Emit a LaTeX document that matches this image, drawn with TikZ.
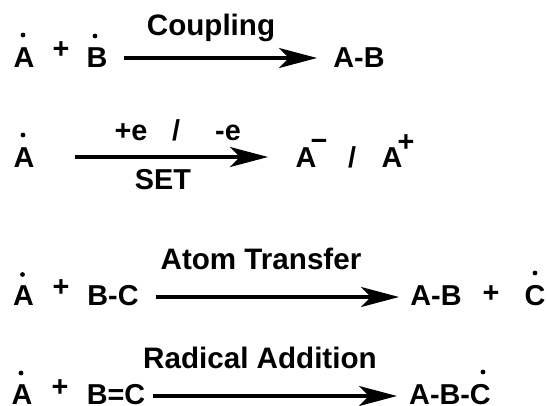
\documentclass[tikz,border=0pt]{standalone}
\usepackage{fontspec}
\setmainfont{Liberation Sans}
\usetikzlibrary{arrows.meta}
\tikzset{
  chem/.style={anchor=base,inner sep=0pt,font=\fontsize{21.6}{25}\selectfont\bfseries},
  lab/.style={anchor=base,inner sep=0pt,font=\fontsize{22.2}{25}\selectfont\bfseries},
  rad/.style={circle,fill=black,inner sep=0pt,minimum size=3.6pt},
  rxn/.style={-{Stealth[length=28.5pt,width=15pt,inset=7.5pt]},black,line width=2.6pt},
}
\begin{document}
\begin{tikzpicture}[x=0.75pt,y=-0.75pt]
  \useasboundingbox (0,0) rectangle (547,405);
  \node[chem] (a1) at (24,67) {A};
  \node[rad] (a1r) at (23,35) {};
  \node[chem] (p1) at (61,58) {+};
  \node[chem] (b1) at (97,67) {B};
  \node[rad] (b1r) at (95,36) {};
  \coordinate (s1) at (124,58);
  \coordinate (e1) at (317,58);
  \draw[rxn] (s1)--(e1);
  \node[lab] (l1) at (211,35) {Coupling};
  \node[chem] (ab1) at (359,67) {A-B};

  \node[chem] (a2) at (24,167) {A};
  \node[rad] (a2r) at (23,135) {};
  \coordinate (s2) at (75,157);
  \coordinate (e2) at (268,157);
  \draw[rxn] (s2)--(e2);
  \node[chem] (l2a) at (131,140) {+e};
  \node[chem] (l2b) at (176,140) {/};
  \node[chem] (l2c) at (228,140) {-e};
  \node[chem] (l2d) at (163,189) {SET};
  \node[chem] (an) at (306,167) {A};
  \node[chem] (mn) at (319,150) {−};
  \node[chem] (sl) at (352,167) {/};
  \node[chem] (ac) at (392,167) {A};
  \node[chem] (pl) at (406,151) {+};

  \node[chem] (a3) at (23.5,305) {A};
  \node[rad] (a3r) at (22.5,274.5) {};
  \node[chem] (p3) at (61,296.5) {+};
  \node[chem] (bc3) at (113,305) {B-C};
  \coordinate (s3) at (156,297);
  \coordinate (e3) at (399,297);
  \draw[rxn] (s3)--(e3);
  \node[lab] (l3) at (261,269) {Atom Transfer};
  \node[chem] (ab3) at (436,305) {A-B};
  \node[chem] (q3) at (491,302.5) {+};
  \node[chem] (c3) at (535,305) {C};
  \node[rad] (c3r) at (535,273) {};

  \node[chem] (a4) at (22,404.5) {A};
  \node[rad] (a4r) at (21,373) {};
  \node[chem] (p4) at (60,396.5) {+};
  \node[chem] (bc4) at (116,404.5) {B=C};
  \coordinate (s4) at (153,396);
  \coordinate (e4) at (397,396);
  \draw[rxn] (s4)--(e4);
  \node[lab] (l4) at (260,368) {Radical Addition};
  \node[chem] (abc4) at (450,404.5) {A-B-C};
  \node[rad] (c4r) at (483,372) {};
\end{tikzpicture}
\end{document}
